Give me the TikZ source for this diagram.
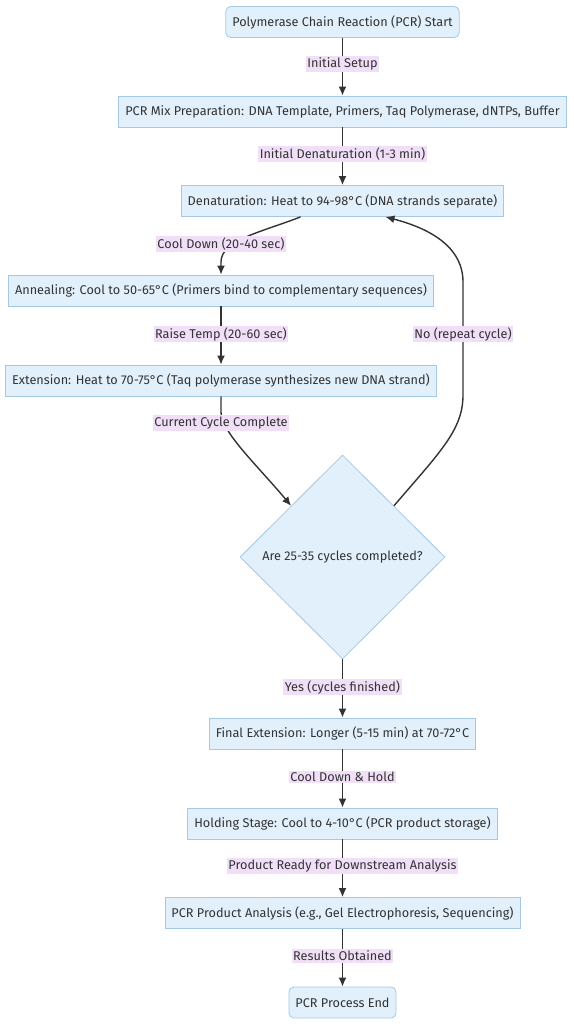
\documentclass[tikz,border=0pt]{standalone}
\usepackage{fontspec}
\setmainfont{Fira Sans}
\usetikzlibrary{shapes.geometric,arrows.meta}
\definecolor{boxfill}{HTML}{E2F0FB}
\definecolor{boxline}{HTML}{A3C9E6}
\definecolor{lblfill}{HTML}{F0DFF6}
\definecolor{ink}{HTML}{333333}
\tikzset{
  stepbox/.style={draw=boxline,fill=boxfill,line width=0.8pt,minimum height=31pt,
    inner xsep=6.5pt,text=ink,font=\fontsize{12.7}{15}\selectfont},
  endbox/.style={stepbox,rounded corners=5pt},
  decbox/.style={diamond,draw=boxline,fill=boxfill,line width=0.8pt,aspect=1,
    minimum width=205pt,minimum height=204pt,inner sep=0pt,text=ink,
    font=\fontsize{12.7}{15}\selectfont},
  lbl/.style={fill=lblfill,inner sep=1.5pt,text=ink,font=\fontsize{12.7}{15}\selectfont},
  flow/.style={draw=ink,line width=1.4pt,-{Latex[length=9pt,width=8pt]}}
}
\begin{document}
\begin{tikzpicture}[x=1pt,y=-1pt]
\useasboundingbox (0,0) rectangle (573,1024);
% steps, top to bottom
\node[endbox] (start) at (342.5,22) {Polymerase Chain Reaction (PCR) Start};
\node[stepbox] (mix) at (342.5,111.5) {PCR Mix Preparation: DNA Template, Primers, Taq Polymerase, dNTPs, Buffer};
\node[stepbox] (denat) at (342.5,201) {Denaturation: Heat to 94-98°C (DNA strands separate)};
\node[stepbox] (anneal) at (221,290.5) {Annealing: Cool to 50-65°C (Primers bind to complementary sequences)};
\node[stepbox] (ext) at (221,380.5) {Extension: Heat to 70-75°C (Taq polymerase synthesizes new DNA strand)};
\node[decbox] (check) at (342.5,557) {Are 25-35 cycles completed?};
\node[stepbox] (final) at (342.5,733.5) {Final Extension: Longer (5-15 min) at 70-72°C};
\node[stepbox] (hold) at (342.5,823.5) {Holding Stage: Cool to 4-10°C (PCR product storage)};
\node[stepbox] (anal) at (342.5,913) {PCR Product Analysis (e.g., Gel Electrophoresis, Sequencing)};
\node[endbox] (stop) at (342.5,1002.5) {PCR Process End};
% connectors
\draw[flow] (start) -- (mix);
\draw[flow] (mix) -- (denat);
\draw[flow] ([xshift=-42pt]denat.south) .. controls (262,232) and (221,240) .. (221,262) -- (anneal.north);
\draw[flow] (anneal) -- (ext);
\draw[flow] (ext.south) -- (221,412) .. controls (221,432) and (258,466) .. (check.north west);
\draw[flow] (check.north east) .. controls (440,452) and (463,430) .. (463,395) -- (463,282)
  .. controls (463,242) and (420,226) .. ([xshift=43pt]denat.south);
\draw[flow] (check) -- (final);
\draw[flow] (final) -- (hold);
\draw[flow] (hold) -- (anal);
\draw[flow] (anal) -- (stop);
% labels on the connectors
\node[lbl] (l1) at (342.5,64) {Initial Setup};
\node[lbl] (l2) at (342.5,154) {Initial Denaturation (1-3 min)};
\node[lbl] (l3) at (221,244) {Cool Down (20-40 sec)};
\node[lbl] (l4) at (221,334) {Raise Temp (20-60 sec)};
\node[lbl] (l5) at (221,423) {Current Cycle Complete};
\node[lbl] (l6) at (463,334) {No (repeat cycle)};
\node[lbl] (l7) at (342.5,687) {Yes (cycles finished)};
\node[lbl] (l8) at (342.5,777) {Cool Down \& Hold};
\node[lbl] (l9) at (342.5,866) {Product Ready for Downstream Analysis};
\node[lbl] (l10) at (342.5,956) {Results Obtained};
\end{tikzpicture}
\end{document}
